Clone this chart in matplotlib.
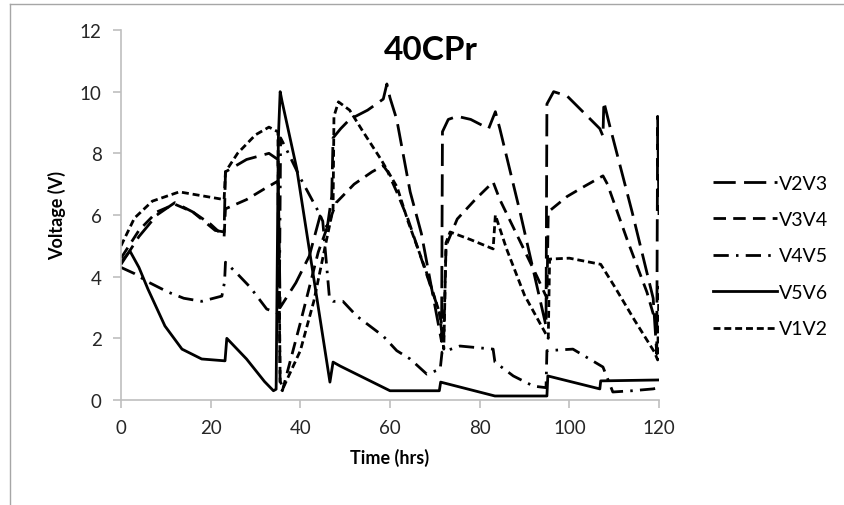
import numpy as np
import matplotlib
matplotlib.use('Agg')
import matplotlib.pyplot as plt
from matplotlib.lines import Line2D

plt.rcParams['font.family'] = ['Lato', 'DejaVu Sans']

# values: time (hrs) and voltage (V) for each cell pair
v2v3_t = [0, 4, 8, 12, 16, 21, 23, 23.3, 28, 33, 35, 35.5, 39, 42, 44.4, 46, 47, 47.3, 49, 51, 55, 58.5, 59.3,
          60, 61.5, 64.5, 67, 71.5, 71.7, 73, 75, 78, 82, 83.5, 84.5, 89, 94.8, 95.0, 96.5, 99.5, 106.8, 107.5,
          107.7, 109, 114, 118.7, 119.5, 119.7, 120]
v2v3_v = [4.4, 5.3, 6.0, 6.4, 6.1, 5.5, 5.45, 7.4, 7.8, 8.0, 7.8, 3.0, 3.8, 4.67, 5.97, 5.6, 6.6, 8.5, 8.8, 9.1,
          9.4, 9.76, 10.25, 9.8, 9.1, 6.75, 5.4, 1.9, 8.7, 9.1, 9.2, 9.1, 8.8, 9.35, 8.8, 6.1, 2.4, 9.6, 10.0,
          9.86, 8.8, 8.56, 9.67, 8.9, 6.1, 3.3, 1.5, 9.2, 6.0]

v3v4_t = [0, 4, 8, 12, 16, 20, 23, 23.3, 28, 32, 35, 35.5, 36, 40, 44, 48, 52, 56, 58.5, 59.5, 61.5, 64, 68, 71,
          72, 72.5, 75, 79, 83, 84.5, 88, 92.8, 95, 95.3, 99.5, 103, 107.5, 108.5, 112.9, 117.3, 119.5, 120]
v3v4_v = [4.6, 5.5, 6.1, 6.35, 6.1, 5.7, 5.3, 6.2, 6.5, 6.85, 7.1, 0.4, 0.3, 2.5, 4.8, 6.4, 7.0, 7.4, 7.6, 7.4,
          6.75, 5.87, 4.15, 2.85, 2.07, 5.0, 5.87, 6.5, 7.07, 6.5, 5.45, 4.0, 3.3, 6.1, 6.6, 6.9, 7.27, 7.0, 5.2,
          3.5, 2.4, 2.0]

v4v5_t = [0, 3, 6, 10.5, 14, 18, 22.5, 23.1, 23.3, 25.9, 28.8, 32.5, 35.3, 35.6, 37, 40, 43.7, 45, 46.5, 47.3,
          49.5, 52.6, 58.5, 61.5, 64.5, 68.2, 71.2, 71.6, 75.6, 83, 83.4, 87.5, 92, 94.8, 95, 100.8, 107.5, 109.7,
          114, 118.7, 120]
v4v5_v = [4.3, 4.1, 3.83, 3.5, 3.3, 3.2, 3.37, 3.83, 4.47, 4.1, 3.66, 2.95, 2.8, 8.5, 8.1, 7.2, 6.2, 5.8, 3.3,
          3.2, 3.2, 2.72, 2.07, 1.6, 1.33, 0.84, 1.0, 1.55, 1.75, 1.65, 1.23, 0.78, 0.45, 0.4, 1.6, 1.65, 1.07,
          0.26, 0.3, 0.36, 0.4]

v5v6_t = [0, 2, 4, 6, 9.8, 13.6, 18, 23.2, 23.6, 28, 32, 34, 34.6, 35.1, 35.5, 35.9, 39.2, 46.6, 47.3, 48.9, 60,
          71, 71.3, 83.4, 95, 95.2, 106.8, 107, 120]
v5v6_v = [4.47, 4.83, 4.3, 3.6, 2.4, 1.65, 1.33, 1.27, 2.0, 1.33, 0.6, 0.3, 0.35, 8.5, 10.0, 9.7, 7.5, 0.58,
          1.23, 1.1, 0.3, 0.3, 0.58, 0.13, 0.13, 0.78, 0.36, 0.62, 0.65]

v1v2_t = [0, 3, 7, 13, 19, 23, 23.3, 26, 30, 33, 35, 35.5, 36.2, 40, 43, 46, 47.3, 47.5, 48.5, 51, 54, 58, 61.6,
          64, 68, 71, 72, 72.5, 73.4, 78, 83, 83.5, 86, 90, 95.3, 95.6, 100, 107, 110, 114.5, 119, 119.7, 120]
v1v2_v = [5.0, 5.9, 6.45, 6.75, 6.6, 6.5, 7.4, 8.0, 8.6, 8.85, 8.7, 0.6, 0.4, 1.6, 3.2, 5.3, 6.2, 9.2, 9.67,
          9.4, 8.7, 7.8, 6.9, 5.8, 4.2, 2.85, 1.65, 5.1, 5.45, 5.2, 4.9, 6.0, 4.9, 3.4, 2.0, 4.57, 4.6, 4.4, 3.7,
          2.6, 1.55, 1.3, 3.7]

series = [
    ('V2V3', v2v3_t, v2v3_v, (8, 3)),
    ('V3V4', v3v4_t, v3v4_v, (4.5, 2.6)),
    ('V4V5', v4v5_t, v4v5_v, (5.5, 2.6, 0.9, 2.6)),
    ('V5V6', v5v6_t, v5v6_v, None),
    ('V1V2', v1v2_t, v1v2_v, (2.5, 1.4)),
]

fig = plt.figure(figsize=(8.45, 5.06), dpi=100)
ax = fig.add_axes([121 / 845, 1 - 401 / 506, 538 / 845, 370 / 506])

for name, t, v, dash in series:
    kw = dict(color='black', lw=2.0, label=name)
    if dash is not None:
        kw['dashes'] = dash
    ax.plot(t, v, **kw)

grey = '#bfbfbf'
ax.set_xlim(0, 120)
ax.set_ylim(0, 12)
ax.set_xticks(np.arange(0, 121, 20))
ax.set_yticks(np.arange(0, 13, 2))
for s in ['top', 'right']:
    ax.spines[s].set_visible(False)
for s in ['left', 'bottom']:
    ax.spines[s].set_color(grey)
    ax.spines[s].set_linewidth(1.2)
ax.tick_params(colors=grey, labelcolor='#262626', labelsize=13.5, length=6, width=1.2, direction='out', pad=8)

ax.set_xlabel('Time (hrs)', fontsize=13, fontweight='bold', labelpad=8)
ax.set_ylabel('Voltage (V)', fontsize=13, fontweight='bold', labelpad=10)
fig.text(431 / 845, 1 - 50 / 506, '40CPr', fontsize=24, fontweight='bold', ha='center', va='center')

fig.legend(loc='center left', bbox_to_anchor=(713 / 845, 1 - 257 / 506), frameon=False, fontsize=14,
           handlelength=3.3, handletextpad=0.1, labelspacing=1.0, borderpad=0, borderaxespad=0)

# outer chart frame (left and top edges visible)
fig.add_artist(Line2D([10 / 845, 10 / 845], [0, 1 - 5 / 506], transform=fig.transFigure, color='#a6a6a6', lw=1))
fig.add_artist(Line2D([10 / 845, 1], [1 - 5 / 506, 1 - 5 / 506], transform=fig.transFigure, color='#a6a6a6', lw=1))

fig.savefig('out.png', dpi=100)
